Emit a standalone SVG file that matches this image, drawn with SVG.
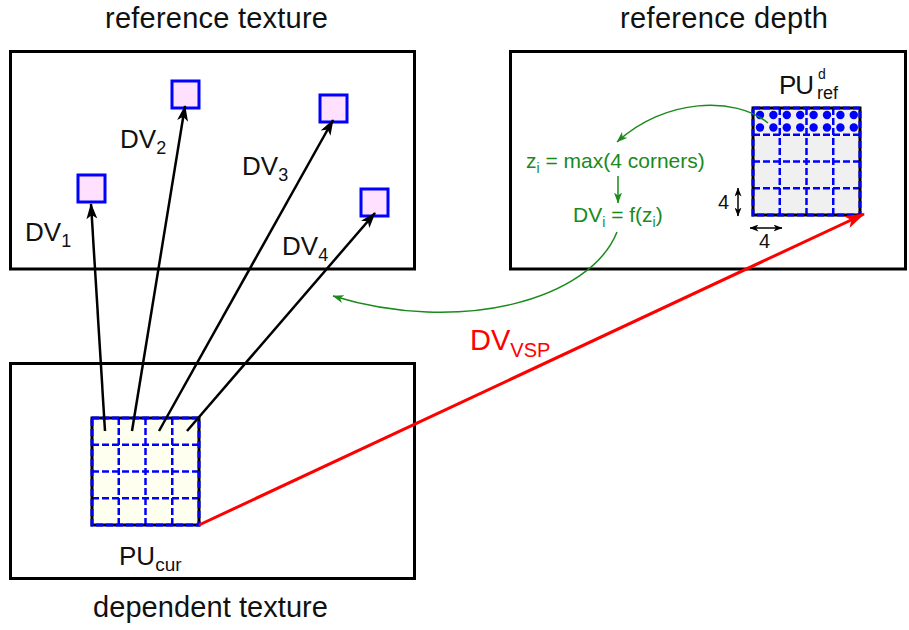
<svg xmlns="http://www.w3.org/2000/svg" width="909" height="630" viewBox="0 0 909 630">
<defs>
<style>
text{font-family:"Liberation Sans",Arial,sans-serif;}
.box{fill:#fff;stroke:#000;stroke-width:3;}
.ttl{font-size:29px;fill:#111;text-anchor:middle;}
.lbl{font-size:26px;fill:#111;}
.grn{font-size:21px;fill:#1a8a1a;}
.tgt{fill:#ffe0ff;stroke:#0000ff;stroke-width:3;}
.bdrk{fill:none;stroke:#000;stroke-width:3;}
.bdrb{fill:none;stroke:#0000ff;stroke-width:3;stroke-dasharray:7 3;}
.gl{stroke:#0000ff;stroke-width:2.5;stroke-dasharray:7 3;fill:none;}
.dv{stroke:#000;stroke-width:2.5;fill:none;marker-end:url(#ab);}
.gr{stroke:#1a8a1a;stroke-width:1.5;fill:none;marker-end:url(#ag);}
.dbl{stroke:#000;stroke-width:1.5;fill:none;marker-start:url(#ad);marker-end:url(#ad);}
</style>
<marker id="ab" markerUnits="userSpaceOnUse" viewBox="0 0 16 11" refX="15" refY="5.5" markerWidth="16" markerHeight="11" orient="auto"><path d="M0,0 L16,5.5 L0,11 L4,5.5 z" fill="#000"/></marker>
<marker id="ar" markerUnits="userSpaceOnUse" viewBox="0 0 20 13" refX="19" refY="6.5" markerWidth="20" markerHeight="13" orient="auto"><path d="M0,0 L20,6.5 L0,13 L5,6.5 z" fill="#ff0000"/></marker>
<marker id="ag" markerUnits="userSpaceOnUse" viewBox="0 0 11 8" refX="10.5" refY="4" markerWidth="11" markerHeight="8" orient="auto"><path d="M0,0 L11,4 L0,8 L3,4 z" fill="#1a8a1a"/></marker>
<marker id="ad" markerUnits="userSpaceOnUse" viewBox="0 0 9 7" refX="8.5" refY="3.5" markerWidth="9" markerHeight="7" orient="auto-start-reverse"><path d="M0,0 L9,3.5 L0,7 L2.5,3.5 z" fill="#000"/></marker>
</defs>

<g id="ref-texture">
<rect class="box" x="10.5" y="51.5" width="404" height="217.5"/>
<text class="ttl" x="216.5" y="28" textLength="223">reference texture</text>
</g>
<g id="ref-depth">
<rect class="box" x="510.5" y="51.5" width="395" height="217.5"/>
<text class="ttl" x="724" y="28" textLength="208">reference depth</text>
</g>
<g id="dep-texture">
<rect class="box" x="10.5" y="363.5" width="404" height="215"/>
<text class="ttl" x="210.5" y="617" textLength="235">dependent texture</text>
</g>

<g id="targets">
<rect class="tgt" x="78" y="175" width="27" height="27"/>
<rect class="tgt" x="172" y="81" width="27" height="27"/>
<rect class="tgt" x="320" y="95" width="27" height="27"/>
<rect class="tgt" x="361" y="189" width="27" height="27"/>
</g>

<g id="pu-cur">
<rect x="92" y="418" width="107" height="107" fill="#fffff0"/>
<path class="gl" d="M118.75,418V525M145.5,418V525M172.25,418V525M92,444.75H199M92,471.5H199M92,498.25H199"/>
<rect class="bdrk" x="92" y="418" width="107" height="107"/>
<rect class="bdrb" x="92" y="418" width="107" height="107"/>
<text class="lbl" x="119" y="565">PU<tspan font-size="19" dy="6">cur</tspan></text>
</g>

<g id="pu-ref">
<rect x="753" y="108" width="107" height="107" fill="#f0f0f0"/>
<path class="gl" d="M779.75,108V215M806.5,108V215M833.25,108V215M753,134.75H860M753,161.5H860M753,188.25H860"/>
<g fill="#0000ff">
<circle cx="760" cy="115" r="4.2"/><circle cx="773.4" cy="115" r="4.2"/><circle cx="786.8" cy="115" r="4.2"/><circle cx="800.2" cy="115" r="4.2"/><circle cx="813.6" cy="115" r="4.2"/><circle cx="827" cy="115" r="4.2"/><circle cx="840.4" cy="115" r="4.2"/><circle cx="853.8" cy="115" r="4.2"/>
<circle cx="760" cy="127.5" r="4.2"/><circle cx="773.4" cy="127.5" r="4.2"/><circle cx="786.8" cy="127.5" r="4.2"/><circle cx="800.2" cy="127.5" r="4.2"/><circle cx="813.6" cy="127.5" r="4.2"/><circle cx="827" cy="127.5" r="4.2"/><circle cx="840.4" cy="127.5" r="4.2"/><circle cx="853.8" cy="127.5" r="4.2"/>
</g>
<rect class="bdrk" x="753" y="108" width="107" height="107"/>
<rect class="bdrb" x="753" y="108" width="107" height="107"/>
<text class="lbl" x="779" y="94" textLength="35">PU</text>
<text x="818" y="79" font-size="14" fill="#111">d</text>
<text x="817" y="99" font-size="18" fill="#111">ref</text>
<text x="718" y="209" font-size="20" fill="#111">4</text>
<text x="759" y="248" font-size="20" fill="#111">4</text>
</g>

<g id="green-texts">
<text class="grn" x="526" y="168">z<tspan font-size="14" dy="5">i</tspan><tspan dy="-5"> = max(4 corners)</tspan></text>
<text class="grn" x="573" y="222">DV<tspan font-size="14" dy="5">i</tspan><tspan dy="-5"> = f(z</tspan><tspan font-size="14" dy="5">i</tspan><tspan dy="-5">)</tspan></text>
</g>

<g id="dv-labels">
<text class="lbl" x="25" y="241">DV<tspan font-size="18" dy="6">1</tspan></text>
<text class="lbl" x="120" y="148">DV<tspan font-size="18" dy="6">2</tspan></text>
<text class="lbl" x="242" y="175">DV<tspan font-size="18" dy="6">3</tspan></text>
<text class="lbl" x="282" y="255">DV<tspan font-size="18" dy="6">4</tspan></text>
<text x="470" y="350" font-size="29" fill="#ff0000">DV<tspan font-size="20" dy="7">VSP</tspan></text>
</g>

<g id="connectors">
<line class="dv" x1="105" y1="431" x2="91" y2="204"/>
<line class="dv" x1="132" y1="431" x2="185" y2="106"/>
<line class="dv" x1="159" y1="431" x2="333" y2="120"/>
<line class="dv" x1="187" y1="431" x2="375" y2="213"/>
<line x1="199" y1="525" x2="864" y2="214" stroke="#ff0000" stroke-width="3" marker-end="url(#ar)"/>
<path class="gr" d="M768,123 C735,96 665,98 617,142"/>
<line class="gr" x1="618" y1="176" x2="618" y2="203"/>
<path class="gr" d="M617,232 C590,300 460,335 333,296"/>
<line class="dbl" x1="738" y1="188" x2="738" y2="216"/>
<line class="dbl" x1="750" y1="228" x2="782" y2="228"/>
</g>
</svg>
